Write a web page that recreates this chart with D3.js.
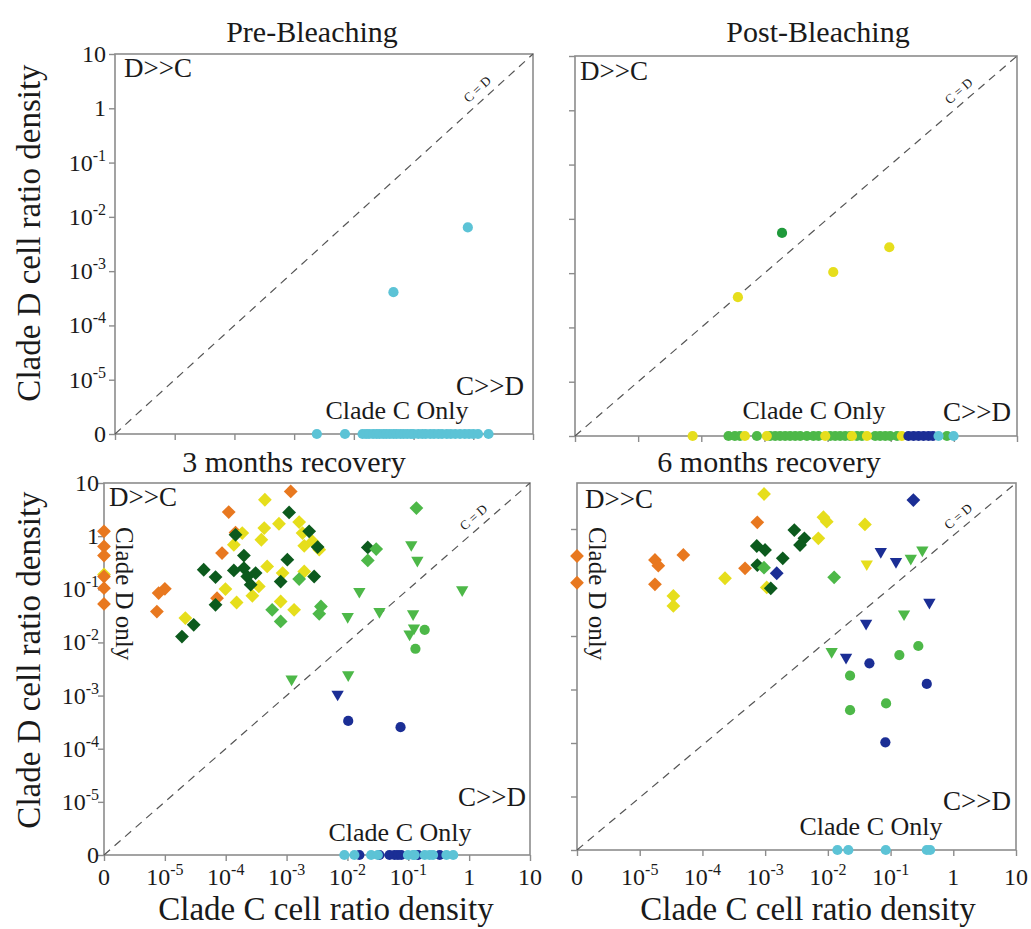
<!DOCTYPE html>
<html><head><meta charset="utf-8">
<script src="https://cdn.jsdelivr.net/npm/d3@7"></script>
<style>body{margin:0;background:#fff}svg text, svg tspan{font-family:'Liberation Serif','Times New Roman',serif;fill:#1a1a1a}</style>
</head><body>
<svg id="chart" width="1031" height="929" font-family="Liberation Serif, Times New Roman, serif"></svg>
<script>
// ---------- DATA ----------
const tickValues = [0, 1e-5, 1e-4, 1e-3, 1e-2, 1e-1, 1, 10];
const tickBase = ["0", "10", "10", "10", "10", "10", "1", "10"];
const tickSup = ["", "-5", "-4", "-3", "-2", "-1", "", ""];
const panelTitles = ["Pre-Bleaching", "Post-Bleaching", "3 months recovery", "6 months recovery"];
const xAxisTitle = "Clade C cell ratio density";
const yAxisTitle = "Clade D cell ratio density";

// Pre-bleaching
const preCyanPoints = [[0.046, 4.1e-4], [0.81, 6.4e-3]];
const preCyanCOnly = [0.0024, 0.0071, 0.014, 0.016, 0.018, 0.021, 0.024, 0.027, 0.031, 0.035, 0.040, 0.046, 0.052, 0.060, 0.068, 0.078, 0.090, 0.10, 0.12, 0.14, 0.16, 0.19, 0.22, 0.26, 0.30, 0.36, 0.42, 0.50, 0.60, 0.72, 0.85, 1.0, 1.2, 1.8];

// Post-bleaching
const postDarkGreenPoints = [[1.9e-3, 5.5e-3]];
const postYellowPoints = [[3.8e-4, 3.6e-4], [0.0123, 1.05e-3], [0.095, 3.0e-3]];
const postGreenCOnly = [2.7e-4, 3.4e-4, 4.1e-4, 7.6e-4, 1.23e-3, 1.48e-3, 1.77e-3, 2.13e-3, 2.55e-3, 3.07e-3, 3.68e-3, 4.7e-3, 5.97e-3, 7.2e-3, 0.011, 0.0132, 0.0158, 0.019, 0.0228, 0.0291, 0.035, 0.0568, 0.068, 0.082, 0.098, 0.126, 0.778];
const postYellowCOnly = [7.3e-5, 4.9e-4, 1.09e-3, 9.2e-3, 0.0243, 0.042, 0.150];
const postBlueCOnly = [0.191, 0.23, 0.276, 0.331, 0.397, 0.466];
const postCyanCOnly = [0.572, 0.99];

// 3 months recovery
const m3Orange = [[1.17e-3, 6.95], [1.12e-4, 2.84], [1.45e-4, 1.17], [8.7e-5, 0.48], [1.0e-5, 0.102], [7.9e-6, 0.085], [7.4e-6, 0.038], [7.2e-5, 0.068], [0, 1.23], [0, 0.64], [0, 0.43], [0, 0.174], [0, 0.105], [0, 0.053]];
const m3Yellow = [[0, 0.19], [4.4e-4, 4.84], [1.61e-3, 1.84], [7.5e-4, 1.71], [4.3e-4, 1.42], [1.87e-4, 1.14], [1.83e-3, 1.14], [3.85e-4, 0.855], [1.36e-4, 0.689], [1.95e-3, 0.659], [2.67e-3, 0.795], [3.44e-3, 0.555], [4.8e-4, 0.269], [8.6e-4, 0.202], [1.95e-3, 0.216], [9.9e-5, 0.101], [3.5e-4, 0.113], [2.74e-4, 0.0755], [1.51e-4, 0.0564], [8.0e-4, 0.0589], [1.33e-3, 0.0411], [2.17e-5, 0.0287]];
const m3DarkGreen = [[1.10e-3, 2.79], [2.35e-3, 1.23], [1.45e-4, 1.06], [3.24e-3, 0.624], [0.0216, 0.612], [1.99e-4, 0.43], [1.03e-3, 0.36], [4.35e-5, 0.233], [1.36e-4, 0.226], [1.99e-4, 0.251], [6.8e-5, 0.170], [2.26e-4, 0.174], [3.1e-4, 0.202], [2.57e-4, 0.122], [8.0e-4, 0.140], [2.84e-3, 0.174], [6.8e-5, 0.051], [2.98e-5, 0.0214], [1.91e-5, 0.0129]];
const m3GreenDiamonds = [[0.136, 3.38], [0.0297, 0.571], [0.0216, 0.349], [1.61e-3, 0.156], [5.8e-4, 0.0411], [3.67e-3, 0.0474], [3.44e-3, 0.0346], [8.0e-4, 0.0248]];
const m3GreenTriangles = [[0.112, 0.689], [0.141, 0.349], [0.0157, 0.091], [0.769, 0.098], [0.0336, 0.038], [0.0101, 0.0307], [0.120, 0.0346], [0.124, 0.0186], [0.105, 0.0143], [0.0103, 2.45e-3], [1.21e-3, 2.04e-3]];
const m3GreenCircles = [[0.186, 0.0173], [0.131, 7.6e-3]];
const m3BlueTriangles = [[6.9e-3, 1.06e-3]];
const m3BlueCircles = [[0.0103, 3.34e-4], [0.0746, 2.54e-4]];
const m3BlueCOnly = [0.0157, 0.0336, 0.0491, 0.0594, 0.0676, 0.0766, 0.145, 0.328];
const m3CyanCOnly = [8.9e-3, 0.013, 0.0245, 0.0316, 0.0989, 0.120, 0.127, 0.186, 0.224, 0.255, 0.424, 0.547];

// 6 months recovery
const m6Orange = [[7.5e-4, 1.33], [4.96e-5, 0.327], [1.75e-5, 0.264], [1.98e-5, 0.206], [1.75e-5, 0.0925], [4.78e-4, 0.184], [0, 0.313], [0, 0.099]];
const m6Yellow = [[9.6e-4, 4.51], [8.5e-3, 1.66], [9.6e-3, 1.37], [0.039, 1.22], [7.05e-3, 0.67], [2.29e-4, 0.12], [3.44e-5, 0.056], [3.44e-5, 0.0364], [1.06e-3, 0.081]];
const m6DarkGreen = [[2.92e-3, 0.957], [4.22e-3, 0.67], [3.6e-3, 0.502], [7.35e-4, 0.481], [9.96e-4, 0.405], [1.91e-3, 0.283], [7.5e-4, 0.212], [1.23e-3, 0.078]];
const m6GreenDiamonds = [[9.6e-4, 0.189], [0.0126, 0.125]];
const m6BlueDiamonds = [[0.231, 3.48], [1.53e-3, 0.149]];
const m6BlueTriangles = [[0.0698, 0.377], [0.122, 0.245], [0.416, 0.0427], [0.0407, 0.0173], [0.0195, 4.0e-3]];
const m6YellowTriangles = [[0.0417, 0.222]];
const m6GreenTriangles = [[0.21, 0.283], [0.321, 0.405], [0.164, 0.0258], [0.0115, 5.1e-3]];
const m6GreenCircles = [[0.277, 6.5e-3], [0.138, 4.4e-3], [0.0226, 1.81e-3], [0.0848, 5.5e-4], [0.0226, 4.1e-4]];
const m6BlueCircles = [[0.046, 3.09e-3], [0.378, 1.27e-3], [0.0826, 1.03e-4]];
const m6CyanCOnly = [0.0142, 0.0212, 0.0838, 0.378, 0.427];

// ---------- STYLE ----------
const FONT = "'Liberation Serif','Times New Roman',serif";
const C = {
  cyan: "#5cc3d6", blue: "#1b2e95", green: "#4db848", darkgreen: "#0c5a1d",
  midgreen: "#1f9a3b", yellow: "#e6de1c", orange: "#e8781f"
};
const onlyC = arr => arr.map(v => [v, 0]);

const layout = [
  {x0: 115, x1: 533, yZero: 434, yTen: 54, top: 54, xLab: false, yLab: true, yLabX: 106,
   title: [312, 42], dc: [124, 77], cd: [524, 395], cOnly: [397, 419], dOnly: null},
  {x0: 575, x1: 1017, yZero: 436, yTen: 56, top: 56, xLab: false, yLab: false,
   title: [818, 42], dc: [580, 80], cd: [1011, 421], cOnly: [814, 419], dOnly: null},
  {x0: 104, x1: 530, yZero: 855, yTen: 483, top: 483, xLab: true, yLab: true, yLabX: 99,
   title: [294, 472], dc: [109, 506], cd: [526, 806], cOnly: [400, 841], dOnly: [116, 527]},
  {x0: 577, x1: 1016, yZero: 850, yTen: 475.5, top: 483, xLab: true, yLab: false,
   title: [769, 472], dc: [585, 508], cd: [1011, 810], cOnly: [871, 835], dOnly: [589, 527]}
];

const series = [
  [
    {d: onlyC(preCyanCOnly), shape: "circle", color: C.cyan},
    {d: preCyanPoints, shape: "circle", color: C.cyan}
  ],
  [
    {d: onlyC(postGreenCOnly), shape: "circle", color: C.green},
    {d: onlyC(postYellowCOnly), shape: "circle", color: C.yellow},
    {d: onlyC(postBlueCOnly), shape: "circle", color: C.blue},
    {d: onlyC(postCyanCOnly), shape: "circle", color: C.cyan},
    {d: postDarkGreenPoints, shape: "circle", color: C.midgreen},
    {d: postYellowPoints, shape: "circle", color: C.yellow}
  ],
  [
    {d: m3Yellow.slice(0, 1), shape: "diamond", color: C.yellow},
    {d: m3Orange, shape: "diamond", color: C.orange},
    {d: m3Yellow.slice(1), shape: "diamond", color: C.yellow},
    {d: m3DarkGreen, shape: "diamond", color: C.darkgreen},
    {d: m3GreenDiamonds, shape: "diamond", color: C.green},
    {d: m3GreenTriangles, shape: "triangle", color: C.green},
    {d: m3GreenCircles, shape: "circle", color: C.green},
    {d: m3BlueTriangles, shape: "triangle", color: C.blue},
    {d: m3BlueCircles, shape: "circle", color: C.blue},
    {d: onlyC(m3BlueCOnly), shape: "circle", color: C.blue},
    {d: onlyC(m3CyanCOnly), shape: "circle", color: C.cyan}
  ],
  [
    {d: m6Orange, shape: "diamond", color: C.orange},
    {d: m6Yellow, shape: "diamond", color: C.yellow},
    {d: m6DarkGreen, shape: "diamond", color: C.darkgreen},
    {d: m6GreenDiamonds, shape: "diamond", color: C.green},
    {d: m6BlueDiamonds, shape: "diamond", color: C.blue},
    {d: m6YellowTriangles, shape: "triangle", color: C.yellow},
    {d: m6GreenTriangles, shape: "triangle", color: C.green},
    {d: m6BlueTriangles, shape: "triangle", color: C.blue},
    {d: m6GreenCircles, shape: "circle", color: C.green},
    {d: m6BlueCircles, shape: "circle", color: C.blue},
    {d: onlyC(m6CyanCOnly), shape: "circle", color: C.cyan}
  ]
];

const svg = d3.select("#chart");
const symbols = {
  circle: d3.symbol().type(d3.symbolCircle).size(82)(),
  diamond: d3.symbol().type(d3.symbolSquare).size(95)(),
  triangle: d3.symbol().type(d3.symbolTriangle).size(66)()
};
const rot = {circle: 0, diamond: 45, triangle: 180};

function txt(sel) { return sel.append("text").attr("font-family", FONT).attr("fill", "#1a1a1a"); }
function addTickLabel(sel, i) {
  sel.append("tspan").text(tickBase[i]);
  if (tickSup[i]) sel.append("tspan").attr("font-size", 16).attr("dy", -10).text(tickSup[i]);
}

layout.forEach((L, pi) => {
  const g = svg.append("g");
  const lx = d3.scaleLog().domain([1e-6, 10]).range([L.x0, L.x1]);
  const ly = d3.scaleLog().domain([1e-6, 10]).range([L.yZero, L.yTen]);
  const sx = v => lx(v === 0 ? 1e-6 : v);
  const sy = v => ly(v === 0 ? 1e-6 : v);
  const tv = tickValues.map(v => v === 0 ? 1e-6 : v);

  // frame
  g.append("rect").attr("x", L.x0).attr("y", L.top).attr("width", L.x1 - L.x0).attr("height", L.yZero - L.top)
    .attr("fill", "none").attr("stroke", "#8c8c8c").attr("stroke-width", 1.6);

  // axes ticks
  const xa = g.append("g").attr("transform", `translate(0,${L.yZero})`)
    .call(d3.axisBottom(lx).tickValues(tv).tickFormat("").tickSize(6).tickSizeOuter(0));
  const ya = g.append("g").attr("transform", `translate(${L.x0},0)`)
    .call(d3.axisLeft(ly).tickValues(tv.filter(v => ly(v) >= L.top - 0.5)).tickFormat("").tickSize(6).tickSizeOuter(0));
  [xa, ya].forEach(a => { a.select(".domain").remove(); a.selectAll("line").attr("stroke", "#8c8c8c").attr("stroke-width", 1.4); });

  // tick labels
  if (L.yLab) {
    tickValues.forEach((v, i) => {
      const t = txt(g).attr("x", L.yLabX).attr("y", sy(v) + 8).attr("text-anchor", "end").attr("font-size", 24);
      addTickLabel(t, i);
    });
  }
  if (L.xLab) {
    tickValues.forEach((v, i) => {
      const t = txt(g).attr("x", sx(v)).attr("y", 885).attr("text-anchor", "middle").attr("font-size", 24);
      addTickLabel(t, i);
    });
  }

  // diagonal C = D
  g.append("line").attr("x1", L.x0).attr("y1", L.yZero).attr("x2", L.x1).attr("y2", L.top)
    .attr("stroke", "#555").attr("stroke-width", 1.2).attr("stroke-dasharray", "8,6");
  const ang = Math.atan2(L.top - L.yZero, L.x1 - L.x0) * 180 / Math.PI;
  const t = 0.885;
  const px = L.x0 + t * (L.x1 - L.x0), py = L.yZero + t * (L.top - L.yZero);
  txt(g).attr("transform", `translate(${px},${py}) rotate(${ang})`).attr("y", -7)
    .attr("text-anchor", "middle").attr("font-size", 13).attr("fill", "#444").text("C = D");

  // annotations
  txt(g).attr("x", L.title[0]).attr("y", L.title[1]).attr("text-anchor", "middle").attr("font-size", 30).text(panelTitles[pi]);
  txt(g).attr("x", L.dc[0]).attr("y", L.dc[1]).attr("font-size", 27).text("D>>C");
  txt(g).attr("x", L.cd[0]).attr("y", L.cd[1]).attr("text-anchor", "end").attr("font-size", 27).text("C>>D");
  txt(g).attr("x", L.cOnly[0]).attr("y", L.cOnly[1]).attr("text-anchor", "middle").attr("font-size", 26).text("Clade C Only");
  if (L.dOnly) {
    txt(g).attr("transform", `translate(${L.dOnly[0]},${L.dOnly[1]}) rotate(90)`).attr("font-size", 25).text("Clade D only");
  }

  // points
  series[pi].forEach(s => {
    g.append("g").selectAll("path").data(s.d).join("path")
      .attr("d", symbols[s.shape])
      .attr("transform", d => `translate(${sx(d[0])},${sy(d[1])}) rotate(${rot[s.shape]})`)
      .attr("fill", s.color);
  });
});

// axis titles
[233, 660].forEach(cy => {
  txt(svg).attr("transform", `translate(40,${cy}) rotate(-90)`).attr("text-anchor", "middle").attr("font-size", 33).text(yAxisTitle);
});
[326, 808].forEach(cx => {
  txt(svg).attr("x", cx).attr("y", 920).attr("text-anchor", "middle").attr("font-size", 33).text(xAxisTitle);
});
</script>
</body></html>
